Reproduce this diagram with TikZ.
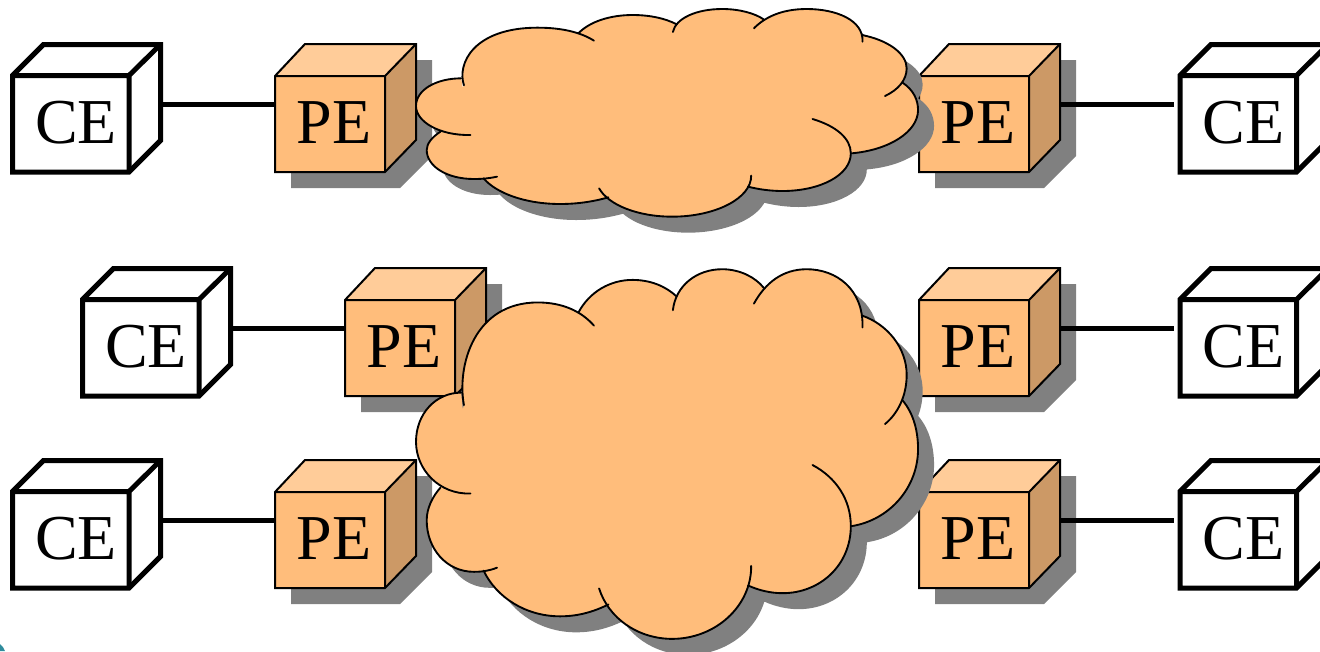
\documentclass[tikz,border=0pt]{standalone}
\usepackage{fontspec}
\setmainfont{Liberation Serif}
\definecolor{peFront}{HTML}{FFBD7B}
\definecolor{peTop}{HTML}{FFCC99}
\definecolor{peSide}{HTML}{CC9966}
\definecolor{shadowgray}{HTML}{808080}
\definecolor{cornerteal}{HTML}{2F8C9C}
\tikzset{
  boxlabel/.style={anchor=base,inner sep=0pt,font=\fontsize{48}{50}\selectfont},
  peline/.style={draw=black,line width=1.5pt,line join=miter},
  celine/.style={draw=black,line width=3.75pt,line join=miter},
  linkline/.style={draw=black,line width=4pt},
  cloudline/.style={draw=black,line width=1.4pt,line cap=round}
}
% PE cube: name, x and y of the front face's top left corner
\newcommand{\pebox}[3]{%
  \begin{scope}[shift={(#2,#3)}]
    \fill[shadowgray] (16,16) -- (46,-16) -- (157,-16) -- (157,80) -- (125,112) -- (16,112) -- cycle;
    \fill[peFront] (0,0) rectangle (110,96);
    \fill[peTop] (0,0) -- (30,-32) -- (141,-32) -- (110,0) -- cycle;
    \fill[peSide] (110,0) -- (141,-32) -- (141,64) -- (110,96) -- cycle;
    \path[peline] (0,0) -- (30,-32) -- (141,-32) -- (141,64) -- (110,96) -- (0,96) -- cycle;
    \path[peline] (0,0) -- (110,0) -- (110,96) (110,0) -- (141,-32);
    \node[boxlabel] (#1) at (59,67) {PE};
    \coordinate (#1-l) at (0,28.5);
    \coordinate (#1-r) at (141,28.5);
  \end{scope}}
% CE cube: name, x and y of the front face's top left corner
\newcommand{\cebox}[3]{%
  \begin{scope}[shift={(#2,#3)}]
    \path[celine,fill=white] (0,0) -- (31,-31) -- (148,-31) -- (148,65) -- (116.5,96.5) -- (0,96.5) -- cycle;
    \path[celine] (0,0) -- (116.5,0) -- (116.5,96.5) (116.5,0) -- (148,-31);
    \node[boxlabel] (#1) at (63.5,67.5) {CE};
    \coordinate (#1-l) at (-6.5,29);
    \coordinate (#1-r) at (148,29);
  \end{scope}}
% cloud lobes, in units of the zoomed crop
\newcommand{\lobeA}{(186,256) .. controls (165,190) and (215,83) .. (400,83) .. controls (470,83) and (525,97) .. (563,122)}
\newcommand{\lobeB}{(518,100) .. controls (550,65) and (610,45) .. (675,45) .. controls (725,45) and (770,55) .. (803,73)}
\newcommand{\lobeC}{(792,96) .. controls (800,55) and (860,27) .. (935,27) .. controls (985,27) and (1030,40) .. (1055,58)}
\newcommand{\lobeD}{(1027,85) .. controls (1060,50) and (1110,27) .. (1180,27) .. controls (1265,27) and (1345,60) .. (1342,125)}
\newcommand{\lobeE}{(1340,105) .. controls (1415,120) and (1470,160) .. (1470,205) .. controls (1470,240) and (1445,270) .. (1407,288)}
\newcommand{\lobeF}{(1458,248) .. controls (1490,270) and (1503,300) .. (1503,330) .. controls (1503,395) and (1420,450) .. (1310,460)}
\newcommand{\lobeG}{(1197,357) .. controls (1265,378) and (1308,415) .. (1308,460) .. controls (1308,525) and (1220,573) .. (1110,573) .. controls (1075,573) and (1040,568) .. (1010,560)}
\newcommand{\lobeH}{(1019,527) .. controls (1020,595) and (915,650) .. (790,650) .. controls (690,650) and (605,615) .. (578,565)}
\newcommand{\lobeI}{(605,592) .. controls (560,605) and (515,612) .. (465,612) .. controls (365,612) and (280,580) .. (243,535)}
\newcommand{\lobeJ}{(282,530) .. controls (260,535) and (240,537) .. (215,537) .. controls (135,537) and (78,498) .. (78,450) .. controls (78,430) and (95,410) .. (118,395)}
\newcommand{\lobeK}{(205,405) .. controls (115,407) and (47,365) .. (47,318) .. controls (47,270) and (105,235) .. (178,235)}
\newcommand{\cloudfill}{%
  \lobeA \lobeB \lobeC \lobeD \lobeE \lobeF \lobeG \lobeH \lobeI \lobeJ \lobeK
  (186,256) -- (518,100) -- (803,73) -- (1055,58) -- (1340,105) -- (1458,248) -- (1310,460) -- (1010,560) -- (605,592) -- (243,535) -- (118,395) -- cycle}
\newcommand{\cloudshape}[2]{% y offset, y scale
  \begin{scope}[shift={(415.8,#1+16)},x=0.2586pt,y=-#2*0.25pt]
    \fill[shadowgray,nonzero rule] \cloudfill;
  \end{scope}
  \begin{scope}[shift={(399.8,#1)},x=0.2586pt,y=-#2*0.25pt]
    \fill[peFront,nonzero rule] \cloudfill;
    \foreach \lobe in {\lobeA,\lobeB,\lobeC,\lobeD,\lobeE,\lobeF,\lobeG,\lobeH,\lobeI,\lobeJ,\lobeK}{
      \draw[cloudline] \lobe;
    }
  \end{scope}}
\begin{document}
\begin{tikzpicture}[x=0.75pt,y=-0.75pt]
  \clip (0,0) rectangle (1320,651);
  \fill[white] (0,0) rectangle (1320,651);
  \fill[cornerteal] (0,644) -- (3,647) -- (5,651) -- (0,651) -- cycle;
  \pebox{pea}{275}{76}
  \pebox{peb}{919}{76}
  \pebox{pec}{345}{300}
  \pebox{ped}{919}{300}
  \pebox{pee}{275}{492}
  \pebox{pef}{919}{492}
  \cebox{cea}{12.5}{75.5}
  \cebox{ceb}{1180}{75.5}
  \cebox{cec}{82.5}{299.5}
  \cebox{ced}{1180}{299.5}
  \cebox{cee}{12.5}{491.5}
  \cebox{cef}{1180}{491.5}
  \draw[linkline] (cea-r) -- (pea-l);
  \draw[linkline] (peb-r) -- (ceb-l);
  \draw[linkline] (cec-r) -- (pec-l);
  \draw[linkline] (ped-r) -- (ced-l);
  \draw[linkline] (cee-r) -- (pee-l);
  \draw[linkline] (pef-r) -- (cef-l);
  \cloudshape{0}{1}
  \cloudshape{253.2}{1.78}
\end{tikzpicture}
\end{document}
